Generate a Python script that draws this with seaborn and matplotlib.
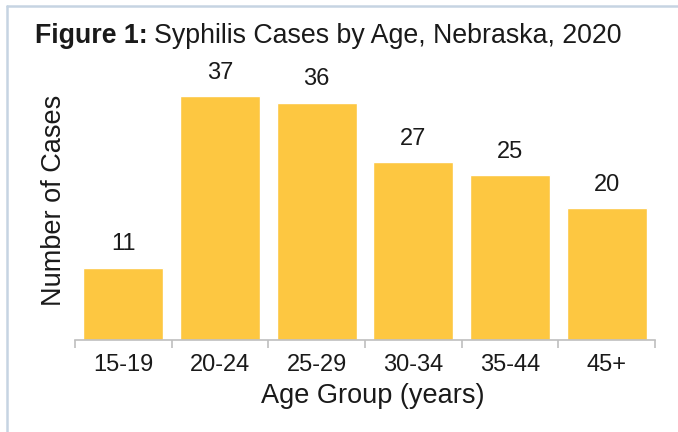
import matplotlib
matplotlib.use("Agg")
import matplotlib.pyplot as plt
from matplotlib.lines import Line2D
import seaborn as sns
import pandas as pd

age_groups = ["15-19", "20-24", "25-29", "30-34", "35-44", "45+"]
cases = [11, 37, 36, 27, 25, 20]

sns.set_style("white")
plt.rcParams["font.family"] = ["Liberation Sans", "DejaVu Sans"]

df = pd.DataFrame({"age": age_groups, "cases": cases})

fig = plt.figure(figsize=(6.78, 4.32), dpi=100)
ax = fig.add_axes([75 / 678, 1 - 340 / 432, 580 / 678, 280 / 432])

sns.barplot(data=df, x="age", y="cases", color="#FDC741", saturation=1,
            width=0.83, ax=ax)

ax.set_xlim(-0.5, len(age_groups) - 0.5)
ax.set_ylim(0, 42.5)
ax.bar_label(ax.containers[0], fontsize=17, padding=9, color="#1a1a1a")

for s in ["top", "right", "left"]:
    ax.spines[s].set_visible(False)
ax.spines["bottom"].set_color("#BFBFBF")
ax.spines["bottom"].set_linewidth(1.2)
ax.set_yticks([])

ax.set_xticks(range(len(age_groups)))
ax.set_xticks([i - 0.5 for i in range(len(age_groups) + 1)], minor=True)
ax.tick_params(axis="x", which="major", length=0, labelsize=17, pad=10,
               labelcolor="#1a1a1a")
ax.tick_params(axis="x", which="minor", length=6, width=1.2, color="#BFBFBF",
               bottom=True)

ax.set_xlabel("Age Group (years)", fontsize=19.5, color="#1a1a1a", labelpad=10)
ax.xaxis.set_label_coords(0.513, -0.155)
ax.set_ylabel("Number of Cases", fontsize=19.5, color="#1a1a1a", labelpad=6)

# title: bold prefix + regular text
t1 = fig.text(35 / 678, 1 - 36 / 432, "Figure 1:", fontsize=19.3,
              fontweight="bold", va="center", ha="left", color="#1a1a1a")
fig.canvas.draw()
bb = t1.get_window_extent(renderer=fig.canvas.get_renderer())
fig.text((bb.x1 + 6) / 678, 1 - 36 / 432,
         "Syphilis Cases by Age, Nebraska, 2020", fontsize=19.3,
         va="center", ha="left", color="#1a1a1a")

# light frame at top and left
fig.add_artist(Line2D([7 / 678, 7 / 678], [0, 1 - 6 / 432],
                      color="#C6D4E2", linewidth=1.8, transform=fig.transFigure))
fig.add_artist(Line2D([7 / 678, 1], [1 - 6 / 432, 1 - 6 / 432],
                      color="#C6D4E2", linewidth=1.8, transform=fig.transFigure))

fig.savefig("out.png", dpi=100)
